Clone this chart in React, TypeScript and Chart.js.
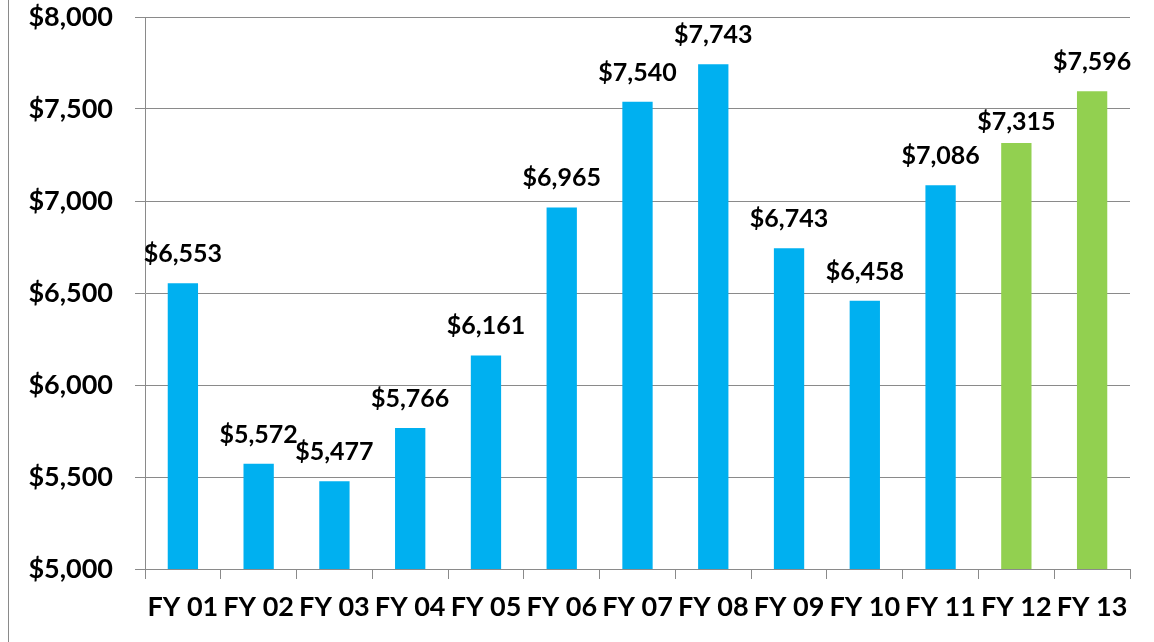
import React, { useEffect, useRef } from "react";
import { Chart, registerables } from "chart.js";

Chart.register(...registerables);

const categories = ["FY 01", "FY 02", "FY 03", "FY 04", "FY 05", "FY 06", "FY 07", "FY 08", "FY 09", "FY 10", "FY 11", "FY 12", "FY 13"];
const values = [6553, 5572, 5477, 5766, 6161, 6965, 7540, 7743, 6743, 6458, 7086, 7315, 7596];
const barColors = ["#00B0F0", "#00B0F0", "#00B0F0", "#00B0F0", "#00B0F0", "#00B0F0", "#00B0F0", "#00B0F0", "#00B0F0", "#00B0F0", "#00B0F0", "#92D050", "#92D050"];
const yMin = 5000;
const yMax = 8000;
const yStep = 500;

const FONT = "Lato, 'Open Sans', sans-serif";

const fmt = (v: number) => "$" + v.toLocaleString("en-US");

const labelPlugin = {
  id: "barLabels",
  afterDatasetsDraw(chart: any) {
    const ctx = chart.ctx;
    const meta = chart.getDatasetMeta(0);
    ctx.save();
    ctx.font = `bold 25px ${FONT}`;
    ctx.fillStyle = "#000";
    ctx.textAlign = "center";
    ctx.textBaseline = "alphabetic";
    meta.data.forEach((bar: any, i: number) => {
      const gap = i === 11 ? 13 : 21;
      ctx.fillText(fmt(values[i]), bar.x, bar.y - gap);
    });
    ctx.restore();
  },
};

const borderPlugin = {
  id: "leftBorder",
  beforeDraw(chart: any) {
    const ctx = chart.ctx;
    ctx.save();
    ctx.strokeStyle = "#8a8a8a";
    ctx.lineWidth = 1;
    ctx.beginPath();
    ctx.moveTo(8.5, 0);
    ctx.lineTo(8.5, chart.height);
    ctx.stroke();
    ctx.restore();
  },
};

export default function App() {
  const ref = useRef<HTMLCanvasElement | null>(null);
  useEffect(() => {
    if (!ref.current) return;
    const chart = new Chart(ref.current, {
      type: "bar",
      data: {
        labels: categories,
        datasets: [
          {
            data: values,
            backgroundColor: barColors,
            borderWidth: 0,
            barPercentage: 0.4,
            categoryPercentage: 1,
          },
        ],
      },
      options: {
        animation: false,
        responsive: false,
        maintainAspectRatio: false,
        layout: { padding: { top: 17, right: 24, bottom: 0, left: 0 } },
        plugins: { legend: { display: false }, tooltip: { enabled: false } },
        scales: {
          x: {
            offset: true,
            grid: { offset: true, drawOnChartArea: false, color: "#8a8a8a", tickLength: 10, lineWidth: 1 },
            border: { color: "#8a8a8a", width: 1 },
            ticks: { color: "#000", font: { family: FONT, weight: "bold", size: 27 }, padding: 12, maxRotation: 0, autoSkip: false },
            afterFit: (s: any) => { s.height = 73; s.paddingLeft = 0; s.paddingRight = 0; },
          },
          y: {
            min: yMin,
            max: yMax,
            grid: { color: "#8a8a8a", tickLength: 10, lineWidth: 1 },
            border: { color: "#8a8a8a", width: 1 },
            ticks: { stepSize: yStep, color: "#000", font: { family: FONT, weight: "bold", size: 27 }, padding: 22, callback: (v: any) => fmt(Number(v)) },
            afterFit: (s: any) => { s.width = 145; s.paddingTop = 0; s.paddingBottom = 0; },
          },
        },
      },
      plugins: [labelPlugin, borderPlugin],
    });
    return () => chart.destroy();
  }, []);
  return (
    <div style={{ position: "absolute", left: 0, top: 0, width: 1154, height: 642, background: "#fff" }}>
      <canvas ref={ref} width={1154} height={642} style={{ display: "block" }} />
    </div>
  );
}
